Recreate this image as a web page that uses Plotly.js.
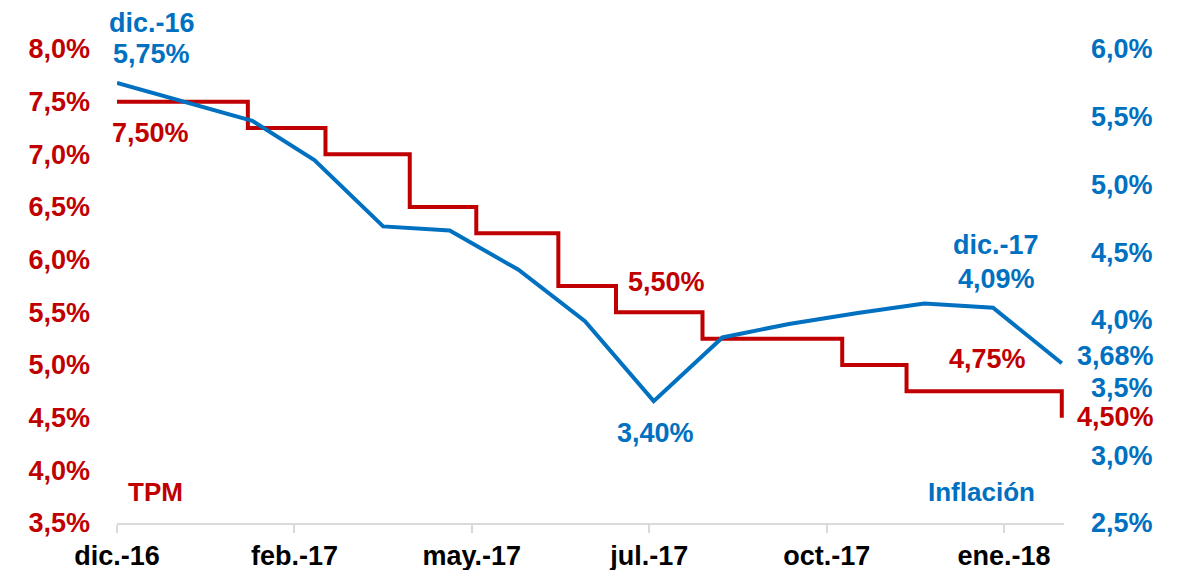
<!DOCTYPE html>
<html>
<head>
<meta charset="utf-8">
<script src="https://cdn.plot.ly/plotly-3.0.1.min.js"></script>
<style>
  html, body { margin: 0; padding: 0; background: #ffffff; }
  #chart { width: 1182px; height: 570px; }
</style>
</head>
<body>
<div id="chart"></div>
<script>
// ---- Data ----
// TPM (policy rate, %), step series: date the level starts
const tpmDates  = ['2016-12-01','2017-01-29','2017-03-05','2017-04-12','2017-05-12','2017-06-18','2017-07-14','2017-08-22','2017-10-24','2017-11-22','2018-01-31'];
const tpmValues = [7.50, 7.25, 7.00, 6.50, 6.25, 5.75, 5.50, 5.25, 5.00, 4.75, 4.50];

// Inflación anual (%), monthly
const inflDates  = ['2016-12-01','2017-01-31','2017-02-28','2017-03-31','2017-04-30','2017-05-31','2017-06-30','2017-07-31','2017-08-31','2017-09-30','2017-10-31','2017-11-30','2017-12-31','2018-01-31'];
const inflValues = [5.75, 5.47, 5.18, 4.69, 4.66, 4.37, 3.99, 3.40, 3.87, 3.97, 4.05, 4.12, 4.09, 3.68];

// X axis ticks
const xTickVals  = ['2016-12-01','2017-02-19','2017-05-10','2017-07-29','2017-10-17','2018-01-05'];
const xTickText  = ['dic.-16','feb.-17','may.-17','jul.-17','oct.-17','ene.-18'];

const RED = '#C00000';
const BLUE = '#0070C0';
const FONT = 'Liberation Sans, Arial, sans-serif';
const FS = 27;

const traces = [
  {
    x: tpmDates, y: tpmValues, yaxis: 'y', type: 'scatter', mode: 'lines',
    line: { color: RED, width: 4, shape: 'hv' }, name: 'TPM', hoverinfo: 'skip'
  },
  {
    x: inflDates, y: inflValues, yaxis: 'y2', type: 'scatter', mode: 'lines',
    line: { color: BLUE, width: 4 }, name: 'Inflación', hoverinfo: 'skip'
  }
];

function ann(text, x, y, yref, color, xshift, yshift) {
  return { text: text, x: x, y: y, xref: 'x', yref: yref, showarrow: false,
           xanchor: 'center', yanchor: 'middle',
           xshift: xshift, yshift: yshift,
           font: { family: FONT, size: FS, color: color, weight: 'bold' } };
}
const last = tpmDates.length - 1;
const lastI = inflDates.length - 1;

const annotations = [
  ann('dic.-16', inflDates[0], inflValues[0], 'y2', BLUE, 35, 60),
  ann('5,75%', inflDates[0], inflValues[0], 'y2', BLUE, 34, 29),
  ann('7,50%', tpmDates[0], tpmValues[0], 'y', RED, 33, -31),
  ann('5,50%', tpmDates[6], tpmValues[6], 'y', RED, 50, 30),
  ann('3,40%', inflDates[7], inflValues[7], 'y2', BLUE, 2, -32),
  ann('dic.-17', inflDates[12], inflValues[12], 'y2', BLUE, 3, 63),
  ann('4,09%', inflDates[12], inflValues[12], 'y2', BLUE, 3, 29),
  ann('4,75%', tpmDates[last], tpmValues[last - 1], 'y', RED, -74, 32),
  ann('3,68%', inflDates[lastI], inflValues[lastI], 'y2', BLUE, 54, 7),
  ann('4,50%', tpmDates[last], tpmValues[last], 'y', RED, 54, 1),
  { text: 'TPM', xref: 'paper', yref: 'paper', x: 0.041, y: 0.065, showarrow: false,
    xanchor: 'center', yanchor: 'middle',
    font: { family: FONT, size: 26, color: RED, weight: 'bold' } },
  { text: 'Inflación', xref: 'paper', yref: 'paper', x: 0.913, y: 0.065, showarrow: false,
    xanchor: 'center', yanchor: 'middle',
    font: { family: FONT, size: 26, color: BLUE, weight: 'bold' } }
];

const layout = {
  width: 1182, height: 570,
  margin: { l: 117, r: 118, t: 49, b: 47 },
  paper_bgcolor: '#ffffff', plot_bgcolor: '#ffffff',
  showlegend: false,
  separators: ',.',
  font: { family: FONT, size: FS },
  xaxis: {
    type: 'date',
    range: ['2016-12-01', '2018-02-01'],
    tickmode: 'array', tickvals: xTickVals, ticktext: xTickText,
    ticks: 'outside', ticklen: 8, tickwidth: 2, tickcolor: '#d9d9d9',
    showline: true, linecolor: '#d9d9d9', linewidth: 2,
    showgrid: false, zeroline: false,
    tickfont: { family: FONT, size: FS, color: '#000000', weight: 'bold' },
    ticklabelstandoff: 0
  },
  yaxis: {
    range: [3.5, 8.0], dtick: 0.5, tick0: 3.5,
    tickformat: '.1f', ticksuffix: '%',
    showgrid: false, zeroline: false, showline: false, ticks: '',
    tickfont: { family: FONT, size: FS, color: RED, weight: 'bold' },
    ticklabelstandoff: 26
  },
  yaxis2: {
    range: [2.5, 6.0], dtick: 0.5, tick0: 2.5,
    tickformat: '.1f', ticksuffix: '%',
    overlaying: 'y', side: 'right',
    showgrid: false, zeroline: false, showline: false, ticks: '',
    tickfont: { family: FONT, size: FS, color: BLUE, weight: 'bold' },
    ticklabelstandoff: 26
  },
  annotations: annotations
};

Plotly.newPlot('chart', traces, layout, { displayModeBar: false, staticPlot: true });
</script>
</body>
</html>
